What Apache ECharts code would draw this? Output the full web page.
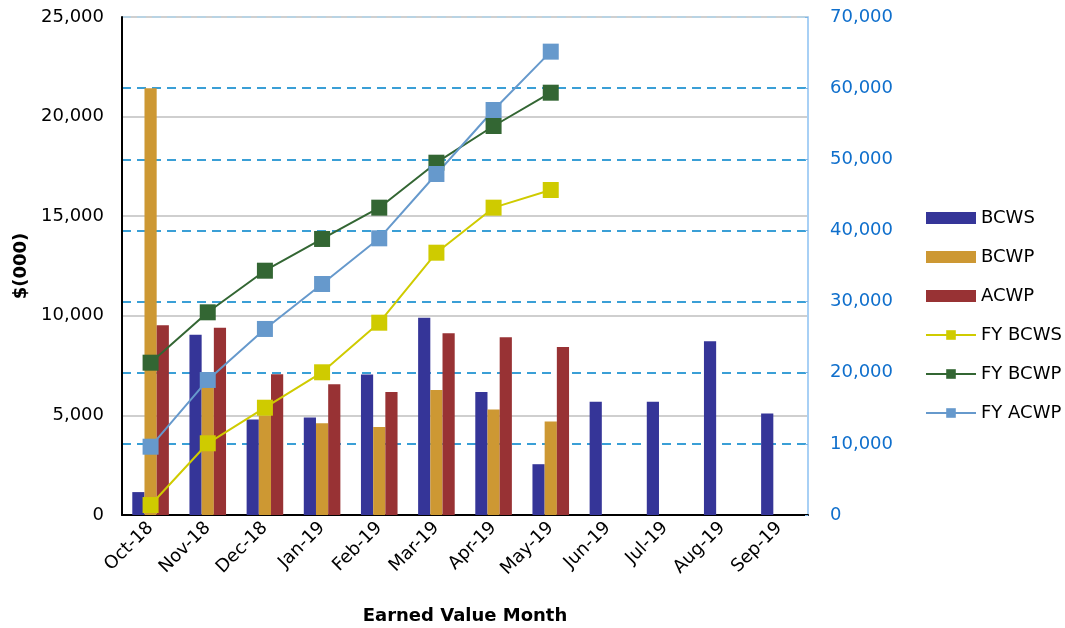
<!DOCTYPE html>
<html>
<head>
<meta charset="utf-8">
<script src="https://cdn.jsdelivr.net/npm/echarts@6/dist/echarts.min.js"></script>
<style>
html,body{margin:0;padding:0;background:#fff;}
#chart{width:1065px;height:628px;}
</style>
</head>
<body>
<div id="chart"></div>
<script>
var categories = ['Oct-18','Nov-18','Dec-18','Jan-19','Feb-19','Mar-19','Apr-19','May-19','Jun-19','Jul-19','Aug-19','Sep-19'];
var bcws = [1150, 9050, 4800, 4900, 7050, 9900, 6170, 2550, 5680, 5680, 8720, 5100];
var bcwp = [21420, 6500, 5000, 4600, 4420, 6270, 5290, 4700, null, null, null, null];
var acwp = [9520, 9400, 7060, 6560, 6170, 9120, 8920, 8430, null, null, null, null];
var fyBcws = [1400, 10080, 15080, 20060, 27030, 36870, 43200, 45680, null, null, null, null];
var fyBcwp = [21410, 28490, 34340, 38800, 43200, 49520, 54680, 59360, null, null, null, null];
var fyAcwp = [9600, 18980, 26150, 32470, 38890, 47930, 56930, 65130, null, null, null, null];
var leftTicks = {min: 0, max: 25000, interval: 5000};
var rightTicks = {min: 0, max: 70000, interval: 10000};

var FONT = 'DejaVu Sans';
function fmt(v){ return v.toLocaleString('en-US'); }

var chart = echarts.init(document.getElementById('chart'), null, {renderer:'canvas'});
function barSeries(name, data, color){
  return {name:name, type:'bar', data:data, yAxisIndex:0, barGap:'0%', barCategoryGap:'36%',
    itemStyle:{color:color}, z:2};
}
function lineSeries(name, data, color){
  return {name:name, type:'line', data:data, yAxisIndex:1, symbol:'rect', symbolSize:16,
    lineStyle:{color:color, width:2}, itemStyle:{color:color}, z:5, connectNulls:false};
}
var dashColors = ['#3A9FD6','#3A9FD6','#3A9FD6','#3A9FD6','#3A9FD6','#3A9FD6','#3A9FD6','#B9D3E3'];
chart.setOption({
  animation:false,
  textStyle:{fontFamily:FONT},
  grid:{left:122, right:257, top:17, bottom:113, containLabel:false, outerBoundsMode:'none'},
  legend:{orient:'vertical', left:920, top:204, itemWidth:50, itemHeight:12, itemGap:21,
    textStyle:{fontFamily:FONT, fontSize:18, color:'#000', lineHeight:18},
    data:[{name:'BCWS', icon:'rect'},{name:'BCWP', icon:'rect'},{name:'ACWP', icon:'rect'},'FY BCWS','FY BCWP','FY ACWP']},
  xAxis:{type:'category', data:categories,
    name:'Earned Value Month', nameLocation:'middle', nameGap:92,
    nameTextStyle:{fontFamily:FONT, fontSize:18, fontWeight:'bold', color:'#000'},
    axisLine:{lineStyle:{color:'#000', width:2}}, axisTick:{show:false},
    axisLabel:{rotate:45, fontSize:18, color:'#000', fontFamily:FONT, margin:10, interval:0}},
  yAxis:[
    {type:'value', min:leftTicks.min, max:leftTicks.max, interval:leftTicks.interval, position:'left',
      name:'$(000)', nameLocation:'middle', nameGap:90, nameRotate:90,
      nameTextStyle:{fontFamily:FONT, fontSize:18, fontWeight:'bold', color:'#000'},
      axisLine:{show:true, lineStyle:{color:'#000', width:2}}, axisTick:{show:false},
      axisLabel:{fontSize:18, color:'#000', fontFamily:FONT, margin:18, formatter:fmt},
      splitLine:{show:true, lineStyle:{color:'#CFCFCF', width:2}}},
    {type:'value', min:rightTicks.min, max:rightTicks.max, interval:rightTicks.interval, position:'right',
      axisLine:{show:true, lineStyle:{color:'#A8D0F5', width:2}},
      axisTick:{show:true, inside:true, length:3, lineStyle:{color:'#7FB7E8'}},
      axisLabel:{fontSize:18, color:'#0F6FCC', fontFamily:FONT, margin:22, formatter:fmt},
      splitLine:{show:true, lineStyle:{color:dashColors, width:2, type:[9,6]}}}
  ],
  series:[
    barSeries('BCWS', bcws, '#353598'),
    barSeries('BCWP', bcwp, '#CD9833'),
    barSeries('ACWP', acwp, '#983234'),
    lineSeries('FY BCWS', fyBcws, '#CFCB00'),
    lineSeries('FY BCWP', fyBcwp, '#336633'),
    lineSeries('FY ACWP', fyAcwp, '#6699CC')
  ]
});
</script>
</body>
</html>
